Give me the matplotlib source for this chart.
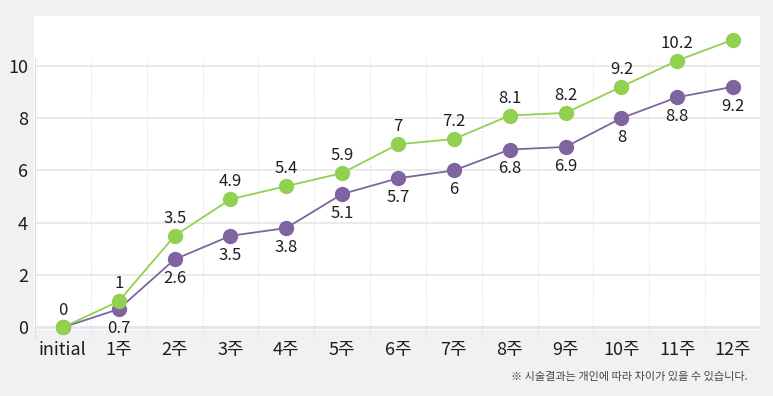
import matplotlib
matplotlib.use("Agg")
import matplotlib.pyplot as plt
from matplotlib.patches import Rectangle

plt.rcParams['font.family'] = ['Noto Sans CJK KR', 'DejaVu Sans']

categories = ["initial", "1주", "2주", "3주", "4주", "5주", "6주", "7주", "8주", "9주", "10주", "11주", "12주"]
green_vals = [0, 1, 3.5, 4.9, 5.4, 5.9, 7, 7.2, 8.1, 8.2, 9.2, 10.2, 11]
purple_vals = [0, 0.7, 2.6, 3.5, 3.8, 5.1, 5.7, 6, 6.8, 6.9, 8, 8.8, 9.2]
green_labels = ["0", "1", "3.5", "4.9", "5.4", "5.9", "7", "7.2", "8.1", "8.2", "9.2", "10.2", "11"]
purple_labels = ["", "0.7", "2.6", "3.5", "3.8", "5.1", "5.7", "6", "6.8", "6.9", "8", "8.8", "9.2"]
yticks = [0, 2, 4, 6, 8, 10]
note = "※ 시술결과는 개인에 따라 차이가 있을 수 있습니다."

W, H = 773, 396
fig = plt.figure(figsize=(W / 100, H / 100), dpi=100)
fig.patch.set_facecolor("#f0f1f3")

# white panel
fig.patches.append(Rectangle((34 / W, 1 - 330 / H), (760 - 34) / W, (330 - 16) / H,
                             transform=fig.transFigure, facecolor="white", edgecolor="none", zorder=-5))

ax = fig.add_axes([35 / W, 1 - 330 / H, (761 - 35) / W, (330 - 58) / H])
ax.set_facecolor("none")
ax.set_zorder(2)
x = list(range(len(categories)))
ax.set_xlim(-0.5, len(categories) - 0.5)
ax.set_ylim(-0.1, 10.3)

for s in ax.spines.values():
    s.set_visible(False)

# horizontal gridlines
for t in yticks:
    ax.axhline(t, color="#e6e6e6", lw=1.2 if t else 2.0, zorder=1)
# vertical dotted gridlines at category boundaries
for b in range(len(categories)):
    xb = b - 0.5
    ax.plot([xb, xb], [-0.35, 10.3], color="#dddddd", lw=0.8,
            ls=(0, (1, 1.5)) if b > 0 else "-", clip_on=False, zorder=1)

ax.plot(x, purple_vals, color="#8064a2", lw=1.3, marker="o", ms=10, mec="#8064a2",
        clip_on=False, zorder=3)
ax.plot(x, green_vals, color="#92d050", lw=1.3, marker="o", ms=10, mec="#92d050",
        clip_on=False, zorder=4)

txt_kw = dict(fontsize=12, color="#1e1e1e", fontweight="light")
for xi, v, lab in zip(x, green_vals, green_labels):
    ax.annotate(lab, (xi, v), xytext=(0, 12.5), textcoords="offset points",
                ha="center", va="center", zorder=5, **txt_kw)
for xi, v, lab in zip(x, purple_vals, purple_labels):
    if lab:
        ax.annotate(lab, (xi, v), xytext=(0, -14), textcoords="offset points",
                    ha="center", va="center", zorder=5, **txt_kw)

ax.set_xticks(x)
ax.set_xticklabels(categories, fontsize=13, color="#1e1e1e", fontweight="light")
ax.set_yticks(yticks)
ax.set_yticklabels([str(t) for t in yticks], fontsize=13, color="#1e1e1e", fontweight="light")
ax.tick_params(axis="both", length=0)
ax.tick_params(axis="x", pad=8)
ax.tick_params(axis="y", pad=5)

fig.text(748 / W, 1 - 377 / H, note, ha="right", va="center", fontsize=8, color="#4a4444")

fig.savefig("out.png", dpi=100, facecolor=fig.get_facecolor())
